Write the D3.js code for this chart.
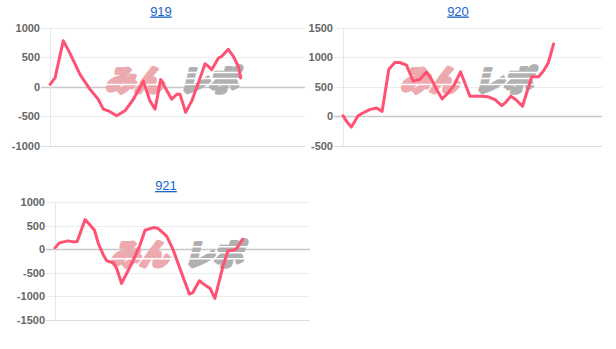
<!DOCTYPE html>
<html>
<head>
<meta charset="utf-8">
<script src="https://cdn.jsdelivr.net/npm/d3@7"></script>
<style>
  body { margin: 0; background: #fff; }
  svg { display: block; }
</style>
</head>
<body>
<div id="chart"></div>
<script>
// progress through the session (percent of the x range) and the difference values
const x919 = [0, 2.0, 5.2, 7.8, 11.8, 15.7, 18.9, 20.9, 22.9, 26.1, 29.4, 32.7, 36.6, 39.2, 41.2, 43.4,
    47.7, 49.7, 51.0, 53.2, 55.6, 58.2, 60.8, 62.1, 63.4, 66.0, 67.3, 69.9, 71.9, 73.9, 74.8];
const y919 = [39, 150, 778, 567, 206, -44, -211, -378, -406, -489, -406, -211, 94, -239, -378, 122,
    -211, -128, -128, -433, -239, 67, 389, 344, 289, 483, 511, 633, 511, 344, 150];

const x920 = [0, 1.7, 3.2, 5.8, 7.7, 10.3, 12.9, 15.1, 17.7, 20.0, 21.9, 24.5, 27.1, 29.7, 32.3, 34.2,
    36.1, 38.3, 40.6, 42.8, 45.4, 49.0, 51.0, 53.6, 56.1, 58.7, 61.3, 62.6, 64.8, 66.7, 69.3, 71.4,
    72.9, 75.5, 77.4, 79.3, 81.3];
const y920 = [11, -102, -182, 11, 57, 114, 142, 85, 795, 909, 909, 864, 597, 625, 750, 625,
    455, 295, 398, 523, 750, 341, 341, 341, 330, 284, 182, 227, 341, 284, 170, 466,
    670, 670, 767, 909, 1222];

const x921 = [0, 1.7, 3.3, 5.2, 7.1, 8.7, 11.8, 13.5, 15.5, 17.0, 19.0, 20.3, 22.9, 24.2, 26.1, 28.1,
    30.7, 33.3, 35.3, 38.6, 40.5, 43.8, 46.4, 49.7, 52.7, 54.0, 56.6, 58.8, 60.8, 62.7, 65.8, 67.8,
    69.9, 71.2, 73.6];
const y921 = [28, 134, 155, 176, 155, 162, 627, 528, 401, 120, -127, -246, -289, -408, -725, -514,
    -232, 84, 401, 458, 437, 275, -21, -514, -950, -922, -669, -760, -830, -1042, -373, -35,
    -21, 14, 211];

const titles = ['919', '920', '921'];
const ticks919 = [-1000, -500, 0, 500, 1000];
const ticks920 = [-500, 0, 500, 1000, 1500];
const ticks921 = [-1500, -1000, -500, 0, 500, 1000];

const W = 616, H = 349;
const svg = d3.select('#chart').append('svg')
    .attr('width', W)
    .attr('height', H);

// one small chart
function drawChart(opt) {
    const g = svg.append('g');

    const x = d3.scaleLinear().domain([0, 100]).range([opt.left, opt.right]);
    const y = d3.scaleLinear().domain(d3.extent(opt.ticks)).range([opt.bottom, opt.top]);

    // title link
    g.append('text')
        .attr('x', opt.titleX)
        .attr('y', opt.top - 12)
        .attr('text-anchor', 'middle')
        .style('font-family', 'Liberation Sans, Arial, sans-serif')
        .style('font-size', '13px')
        .style('fill', '#1a66c9')
        .style('text-decoration', 'underline')
        .text(opt.title);

    // grid + ticks
    g.selectAll('line.grid')
        .data(opt.ticks)
        .join('line')
        .classed('grid', true)
        .attr('x1', opt.left - 9)
        .attr('x2', opt.right)
        .attr('y1', d => Math.round(y(d)) + 0.5)
        .attr('y2', d => Math.round(y(d)) + 0.5)
        .style('stroke', d => d === 0 ? '#c8c8c8' : (d === opt.ticks[0] ? '#dcdcdc' : '#ececec'))
        .style('stroke-width', d => d === 0 ? 1.5 : 1);

    g.append('line')
        .attr('x1', opt.left + 0.5).attr('x2', opt.left + 0.5)
        .attr('y1', opt.top).attr('y2', opt.bottom)
        .style('stroke', '#e8e8e8');

    g.selectAll('text.ylab')
        .data(opt.ticks)
        .join('text')
        .classed('ylab', true)
        .attr('x', opt.left - 10)
        .attr('y', d => y(d) + 4)
        .attr('text-anchor', 'end')
        .style('font-family', 'Liberation Sans, Arial, sans-serif')
        .style('font-size', '11px')
        .style('font-weight', 'bold')
        .style('fill', '#666')
        .text(d => d);

    // watermark
    const cx = (opt.left + opt.right) / 2;
    const cy = (opt.top + opt.bottom) / 2 - 8;
    const wm = g.append('g')
        .attr('transform', `translate(${cx},${cy}) skewX(-14)`);
    wm.append('text')
        .attr('x', -69)
        .attr('y', 12)
        .style('font-family', 'Noto Sans CJK JP, sans-serif')
        .style('font-size', '29px')
        .style('font-weight', 900)
        .style('fill', '#eca9ae')
        .style('stroke', '#eca9ae')
        .style('stroke-width', 3.5)
        .style('stroke-linejoin', 'round')
        .text('みん');
    wm.append('text')
        .attr('x', 5)
        .attr('y', 12)
        .style('font-family', 'Noto Sans CJK JP, sans-serif')
        .style('font-size', '29px')
        .style('font-weight', 900)
        .style('fill', '#b0b0b0')
        .style('stroke', '#b0b0b0')
        .style('stroke-width', 3.5)
        .style('stroke-linejoin', 'round')
        .text('レポ');
    [-7, -1, 5].forEach(dy => {
        wm.append('rect')
            .attr('x', -2)
            .attr('y', dy)
            .attr('width', 80)
            .attr('height', 1.5)
            .style('fill', '#fff');
    });
    wm.append('rect')
        .attr('x', -72)
        .attr('y', 5)
        .attr('width', 66)
        .attr('height', 1.5)
        .style('fill', '#fff');

    // data line
    const line = d3.line()
        .x(d => x(d[0]))
        .y(d => y(d[1]));
    g.append('path')
        .datum(d3.zip(opt.xs, opt.ys))
        .attr('d', line)
        .style('fill', 'none')
        .style('stroke', '#ff5273')
        .style('stroke-width', 3)
        .style('stroke-linejoin', 'round')
        .style('stroke-linecap', 'round');
}

drawChart({ title: titles[0], titleX: 161, left: 50, right: 305, top: 27.5, bottom: 146,
    ticks: ticks919, xs: x919, ys: y919 });
drawChart({ title: titles[1], titleX: 458, left: 343, right: 602, top: 27.5, bottom: 146,
    ticks: ticks920, xs: x920, ys: y920 });
drawChart({ title: titles[2], titleX: 166, left: 55, right: 310, top: 202, bottom: 320,
    ticks: ticks921, xs: x921, ys: y921 });
</script>
</body>
</html>
